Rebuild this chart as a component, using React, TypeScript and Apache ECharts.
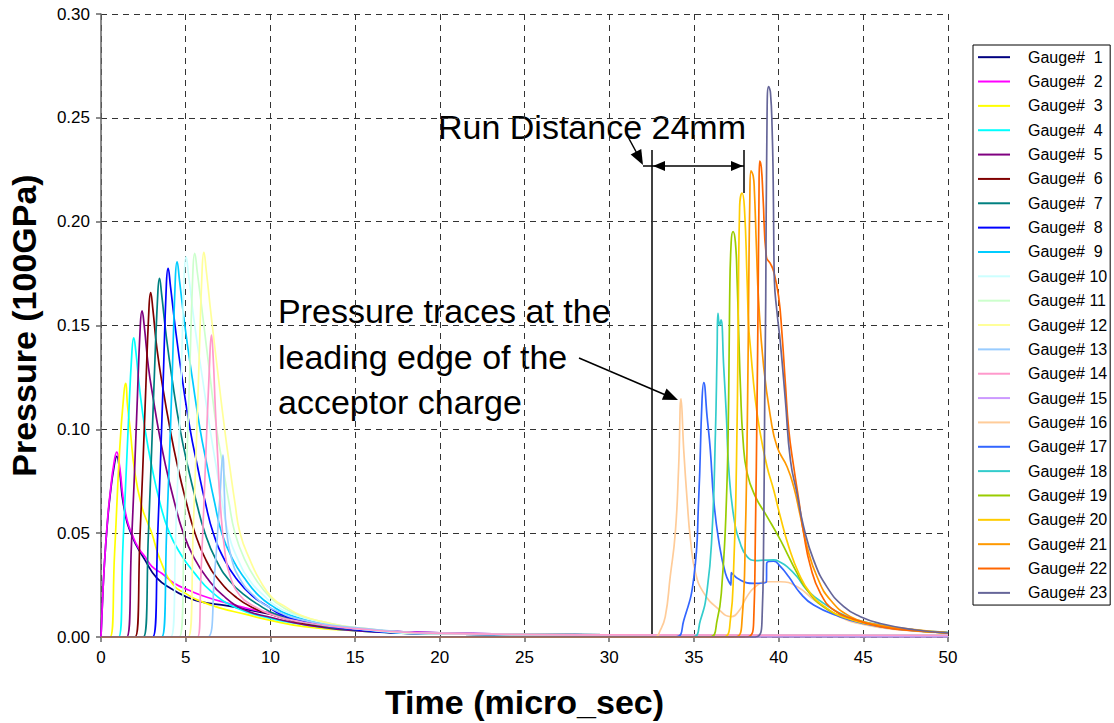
import React, { useEffect, useRef } from "react";
import * as echarts from "echarts";

type Pt = [number, number];

const GAUGE_NAMES = [
  "Gauge#  1", "Gauge#  2", "Gauge#  3", "Gauge#  4", "Gauge#  5", "Gauge#  6",
  "Gauge#  7", "Gauge#  8", "Gauge#  9", "Gauge# 10", "Gauge# 11", "Gauge# 12",
  "Gauge# 13", "Gauge# 14", "Gauge# 15", "Gauge# 16", "Gauge# 17", "Gauge# 18",
  "Gauge# 19", "Gauge# 20", "Gauge# 21", "Gauge# 22", "Gauge# 23",
];

const GAUGE_COLORS = [
  "#000080", "#FF00FF", "#FFFF00", "#00FFFF", "#800080", "#800000",
  "#008080", "#0000FF", "#00CCFF", "#CCFFFF", "#CCFFCC", "#FFFF99",
  "#99CCFF", "#FF99CC", "#CC99FF", "#FFCC99", "#3366FF", "#33CCCC",
  "#99CC00", "#FFCC00", "#FF9900", "#FF6600", "#666699",
];

const X_TICKS = [0, 5, 10, 15, 20, 25, 30, 35, 40, 45, 50];
const Y_TICKS = [0, 0.05, 0.1, 0.15, 0.2, 0.25, 0.3];

// time (micro_sec), pressure (100GPa)
const gauge01: Pt[] = [[0,0],[0.05,0.01],[0.2,0.035],[0.4,0.057],[0.55,0.069],[0.75,0.081],[0.93,0.087],[1.1,0.080],[1.32,0.064],[1.81,0.049],[2.6,0.037],[3.29,0.0285],[4.2,0.023],[5.0,0.0195],[5.85,0.017],[7.5,0.0150],[10,0.011],[12,0.008],[15,0.004],[20,0.002],[30,0.001],[50,0.0008]];
const gauge02: Pt[] = [[0,0],[0.05,0.01],[0.2,0.035],[0.4,0.058],[0.55,0.07],[0.75,0.083],[0.93,0.089],[1.1,0.082],[1.32,0.066],[1.55,0.056],[1.81,0.050],[2.2,0.043],[2.6,0.0387],[3.0,0.034],[3.58,0.0307],[4.3,0.026],[5.16,0.0226],[6.3,0.019],[7.52,0.0162],[8.8,0.0135],[10.08,0.0114],[12,0.008],[15,0.004],[20,0.002],[30,0.001],[50,0.0008]];
const gauge03: Pt[] = [[0,0],[0.53,0],[0.8,0.04],[1.1,0.09],[1.36,0.118],[1.46,0.1222],[1.56,0.112],[1.71,0.101],[2.0,0.079],[2.4,0.063],[2.8,0.054],[3.0,0.05],[3.5,0.037],[4.27,0.025],[5.0,0.021],[5.65,0.018],[7,0.014],[8.5,0.011],[10,0.008],[12,0.005],[15,0.003],[20,0.0015],[30,0.001],[50,0.0008]];
const gauge04: Pt[] = [[0,0],[1.04,0],[1.3,0.045],[1.6,0.1],[1.83,0.138],[1.93,0.1441],[2.05,0.138],[2.3,0.118],[2.6,0.10],[3.0,0.082],[3.5,0.064],[4.0,0.051],[4.7,0.04],[5.5,0.031],[6.5,0.022],[8,0.014],[10,0.009],[12,0.006],[15,0.003],[20,0.0015],[30,0.001],[50,0.0008]];
const gauge05: Pt[] = [[0,0],[1.51,0],[1.8,0.045],[2.1,0.105],[2.32,0.15],[2.42,0.157],[2.55,0.150],[2.8,0.13],[3.1,0.114],[3.39,0.10],[3.8,0.083],[4.3,0.066],[4.86,0.05],[5.5,0.038],[6.3,0.028],[7.2,0.02],[8.5,0.013],[10,0.0095],[12,0.006],[15,0.003],[20,0.0015],[30,0.001],[50,0.0008]];
const gauge06: Pt[] = [[0,0],[2.01,0],[2.3,0.048],[2.6,0.11],[2.83,0.158],[2.93,0.1658],[3.06,0.158],[3.3,0.139],[3.65,0.12],[4.08,0.10],[4.5,0.083],[5.0,0.066],[5.55,0.05],[6.2,0.037],[7.0,0.027],[8.0,0.019],[9.0,0.014],[10,0.011],[12,0.0065],[15,0.0035],[20,0.0015],[30,0.001],[50,0.0008]];
const gauge07: Pt[] = [[0,0],[2.5,0],[2.8,0.05],[3.1,0.115],[3.35,0.165],[3.45,0.1727],[3.58,0.165],[3.85,0.145],[4.2,0.124],[4.67,0.10],[5.1,0.083],[5.6,0.066],[6.14,0.05],[6.8,0.037],[7.6,0.027],[8.5,0.02],[9.4,0.015],[10.3,0.011],[12,0.007],[15,0.0035],[20,0.0015],[30,0.001],[50,0.0008]];
const gauge08: Pt[] = [[0,0],[3.05,0],[3.35,0.05],[3.65,0.118],[3.86,0.17],[3.96,0.1775],[4.1,0.169],[4.4,0.148],[4.8,0.124],[5.26,0.10],[5.7,0.082],[6.15,0.065],[6.63,0.05],[7.3,0.037],[8.0,0.028],[8.9,0.02],[9.8,0.015],[10.6,0.011],[12,0.0075],[15,0.0035],[20,0.0015],[30,0.001],[50,0.0008]];
const gauge09: Pt[] = [[0,0],[3.58,0],[3.88,0.052],[4.18,0.12],[4.39,0.173],[4.49,0.1807],[4.63,0.172],[4.95,0.15],[5.4,0.124],[5.85,0.10],[6.25,0.083],[6.7,0.065],[7.13,0.05],[7.8,0.037],[8.5,0.028],[9.3,0.02],[10.1,0.015],[11,0.011],[12.5,0.0075],[15,0.004],[20,0.0015],[30,0.001],[50,0.0008]];
const gauge10: Pt[] = [[0,0],[4.12,0],[4.42,0.052],[4.72,0.122],[4.92,0.175],[5.02,0.1831],[5.16,0.175],[5.5,0.152],[6.0,0.124],[6.44,0.10],[6.8,0.082],[7.15,0.065],[7.52,0.05],[8.1,0.037],[8.8,0.027],[9.6,0.02],[10.4,0.0145],[11.3,0.011],[12.8,0.0075],[15,0.004],[20,0.0015],[30,0.001],[50,0.0008]];
const gauge11: Pt[] = [[0,0],[4.62,0],[4.92,0.053],[5.22,0.123],[5.43,0.177],[5.53,0.1848],[5.68,0.176],[6.0,0.155],[6.4,0.128],[6.83,0.10],[7.2,0.082],[7.55,0.065],[7.91,0.05],[8.5,0.037],[9.2,0.027],[10,0.019],[10.8,0.014],[11.7,0.0105],[13,0.0075],[15,0.0045],[20,0.0017],[30,0.001],[50,0.0008]];
const gauge12: Pt[] = [[0,0],[5.15,0],[5.45,0.053],[5.75,0.123],[5.97,0.177],[6.07,0.1852],[6.22,0.176],[6.5,0.155],[6.9,0.127],[7.3,0.10],[7.6,0.082],[7.9,0.065],[8.21,0.05],[8.8,0.037],[9.4,0.027],[10.1,0.019],[10.9,0.0145],[11.8,0.0105],[13,0.0075],[15,0.0045],[20,0.0017],[30,0.001],[50,0.0008]];
const gauge13: Pt[] = [[0,0],[6.3,0],[6.7,0.03],[7.0,0.065],[7.2,0.0876],[7.28,0.07],[7.4,0.052],[7.7,0.038],[8.2,0.028],[9,0.02],[10,0.014],[12,0.008],[15,0.0045],[20,0.0017],[30,0.001],[50,0.0008]];
const gauge14: Pt[] = [[0,0],[5.7,0],[5.9,0.03],[6.15,0.08],[6.4,0.13],[6.52,0.1454],[6.62,0.135],[6.75,0.11],[6.9,0.085],[7.05,0.063],[7.3,0.042],[7.6,0.03],[8.2,0.02],[9,0.015],[10,0.011],[12,0.007],[15,0.004],[20,0.0017],[30,0.001],[50,0.0008]];
const gauge15: Pt[] = [[0,0],[50,0]];
const gauge16: Pt[] = [[0,0],[32.7,0],[33.0,0.003],[33.31,0.0098],[33.6,0.029],[33.9,0.05],[34.1,0.082],[34.24,0.1147],[34.4,0.09],[34.6,0.066],[34.8,0.0467],[35.1,0.0307],[35.6,0.021],[36.4,0.0138],[37.2,0.0098],[37.7,0.013],[38.1,0.019],[38.6,0.024],[39.3,0.0266],[40.1,0.0266],[41.1,0.0242],[42.1,0.0178],[43.6,0.0098],[45,0.006],[47,0.0035],[50,0.002]];
const gauge17: Pt[] = [[0,0],[33.9,0],[34.4,0.008],[35.0,0.029],[35.28,0.066],[35.48,0.114],[35.58,0.1225],[35.78,0.106],[35.97,0.09],[36.17,0.066],[36.46,0.0467],[36.86,0.0307],[37.19,0.025],[37.2,0.031],[37.74,0.0274],[38.53,0.0258],[39.28,0.0266],[39.3,0.0356],[39.7,0.0365],[40.1,0.034],[40.6,0.029],[41.29,0.021],[42.07,0.0154],[43.6,0.0098],[45,0.0065],[47,0.0038],[50,0.002]];
const gauge18: Pt[] = [[0,0],[34.9,0],[35.38,0.008],[35.78,0.0226],[36.07,0.05],[36.27,0.098],[36.37,0.138],[36.42,0.1559],[36.52,0.15],[36.6,0.1527],[36.76,0.13],[36.92,0.106],[37.05,0.082],[37.35,0.058],[37.74,0.045],[38.14,0.0387],[38.63,0.0368],[39.2,0.037],[39.71,0.0371],[40.1,0.036],[40.5,0.0339],[41.09,0.029],[41.68,0.0226],[42.66,0.0162],[44.05,0.0098],[45.5,0.0065],[47.5,0.0038],[50,0.0022]];
const gauge19: Pt[] = [[0,0],[35.9,0],[36.37,0.008],[36.66,0.0258],[36.92,0.066],[37.05,0.114],[37.11,0.162],[37.2,0.19],[37.31,0.1952],[37.45,0.19],[37.55,0.172],[37.64,0.148],[37.75,0.12],[37.9,0.095],[38.14,0.079],[38.63,0.0676],[39.32,0.058],[40.0,0.0483],[40.5,0.0403],[40.99,0.0323],[41.68,0.0226],[42.66,0.0146],[44.05,0.009],[45.5,0.006],[47.5,0.0035],[50,0.002]];
const gauge20: Pt[] = [[0,0],[36.7,0],[37.15,0.008],[37.35,0.034],[37.51,0.082],[37.61,0.146],[37.7,0.207],[37.84,0.2137],[37.98,0.207],[38.14,0.172],[38.23,0.15],[38.33,0.14],[38.63,0.114],[38.92,0.098],[39.32,0.082],[39.71,0.0708],[40.1,0.058],[40.6,0.0435],[41.19,0.0307],[41.88,0.021],[42.86,0.0138],[44.05,0.009],[45.5,0.006],[47.5,0.0035],[50,0.002]];
const gauge21: Pt[] = [[0,0],[37.4,0],[37.84,0.008],[38.04,0.05],[38.17,0.114],[38.23,0.162],[38.3,0.21],[38.37,0.2245],[38.5,0.222],[38.57,0.215],[38.69,0.188],[38.82,0.162],[39.12,0.13],[39.52,0.106],[39.91,0.0916],[40.5,0.082],[40.89,0.0724],[41.29,0.058],[41.68,0.0435],[42.27,0.029],[43.06,0.0178],[44.24,0.0098],[45.5,0.0065],[47.5,0.004],[50,0.002]];
const gauge22: Pt[] = [[0,0],[38.1,0],[38.53,0.008],[38.63,0.05],[38.73,0.114],[38.79,0.162],[38.84,0.21],[38.88,0.2292],[38.98,0.226],[39.08,0.212],[39.28,0.183],[39.5,0.18],[39.71,0.176],[40.0,0.164],[40.2,0.146],[40.4,0.122],[40.6,0.0997],[40.89,0.082],[41.19,0.066],[41.48,0.05],[41.88,0.034],[42.47,0.021],[43.26,0.013],[44.44,0.0085],[46,0.005],[48,0.003],[50,0.002]];
const gauge23: Pt[] = [[0,0],[38.6,0],[39.02,0.008],[39.12,0.05],[39.18,0.114],[39.24,0.162],[39.32,0.252],[39.41,0.265],[39.52,0.262],[39.62,0.244],[39.68,0.22],[39.71,0.196],[39.75,0.172],[39.91,0.156],[40.1,0.142],[40.4,0.114],[40.7,0.085],[41.09,0.069],[41.48,0.053],[42.07,0.037],[42.86,0.024],[43.85,0.0146],[44.83,0.0098],[46,0.0065],[48,0.0035],[50,0.002]];

const GAUGE_DATA: Pt[][] = [
  gauge01, gauge02, gauge03, gauge04, gauge05, gauge06, gauge07, gauge08,
  gauge09, gauge10, gauge11, gauge12, gauge13, gauge14, gauge15, gauge16,
  gauge17, gauge18, gauge19, gauge20, gauge21, gauge22, gauge23,
];

const NOTE_LEADING = ["Pressure traces at the", "leading edge of the", "acceptor charge"];
const NOTE_RUN = "Run Distance 24mm";

const FONT = "'Liberation Sans', Arial, Helvetica, sans-serif";

function arrowHead(tipX: number, tipY: number, fromX: number, fromY: number, len: number, half: number) {
  const dx = tipX - fromX;
  const dy = tipY - fromY;
  const d = Math.sqrt(dx * dx + dy * dy) || 1;
  const ux = dx / d;
  const uy = dy / d;
  const bx = tipX - ux * len;
  const by = tipY - uy * len;
  return {
    type: "polygon",
    shape: { points: [[tipX, tipY], [bx - uy * half, by + ux * half], [bx + uy * half, by - ux * half]] },
    style: { fill: "#000" },
    silent: true,
  };
}

function line(x1: number, y1: number, x2: number, y2: number, w = 1.5) {
  return { type: "line", shape: { x1, y1, x2, y2 }, style: { stroke: "#000", lineWidth: w }, silent: true };
}

export default function App() {
  const ref = useRef<HTMLDivElement>(null);

  useEffect(() => {
    if (!ref.current) return;
    const chart = echarts.init(ref.current, undefined, { renderer: "svg" });

    const series = GAUGE_NAMES.map((name, i) => ({
      name,
      type: "line",
      data: GAUGE_DATA[i],
      showSymbol: false,
      symbol: "none",
      smooth: 0.5,
      lineStyle: { width: 1.7, color: GAUGE_COLORS[i] },
      itemStyle: { color: GAUGE_COLORS[i] },
      emphasis: { disabled: true },
      z: 2,
    }));

    const note = (text: string, x: number, y: number) => ({
      type: "text",
      silent: true,
      style: { text, x, y, fill: "#000", fontSize: 34, fontFamily: FONT, align: "left", verticalAlign: "middle" },
    });

    const graphic: any[] = [
      note(NOTE_RUN, 438, 127),
      note(NOTE_LEADING[0], 278, 311),
      note(NOTE_LEADING[1], 278, 357),
      note(NOTE_LEADING[2], 278, 402),
      // run distance markers
      line(652, 150, 652, 637),
      line(744, 150, 744, 193),
      line(643, 166, 744, 166),
      arrowHead(653, 166, 670, 166, 12, 5),
      arrowHead(743, 166, 720, 166, 12, 5),
      // callout from the run distance label
      line(627, 135, 640, 159),
      arrowHead(643, 165, 627, 135, 15, 6),
      // callout from the leading edge label
      line(579, 358, 668, 396),
      arrowHead(678, 400, 579, 358, 15, 6),
    ];

    chart.setOption({
      animation: false,
      grid: { left: 101, right: 166, top: 14, bottom: 86, containLabel: false, outerBoundsMode: "none" },
      legend: {
        orient: "vertical",
        left: 973,
        top: 45,
        padding: [0, 3, 0, 5],
        itemGap: 0,
        itemWidth: 32,
        itemHeight: 2,
        icon: "rect",
        borderColor: "#000",
        borderWidth: 1,
        backgroundColor: "#fff",
        selectedMode: false,
        textStyle: { fontSize: 16, fontFamily: FONT, color: "#000", lineHeight: 24.35, padding: [0, 0, 0, 13] },
        data: GAUGE_NAMES,
      },
      xAxis: {
        type: "value",
        min: X_TICKS[0],
        max: X_TICKS[X_TICKS.length - 1],
        interval: X_TICKS[1] - X_TICKS[0],
        name: "Time (micro_sec)",
        nameLocation: "middle",
        nameGap: 48,
        nameTextStyle: { fontSize: 34, fontWeight: "bold", fontFamily: FONT, color: "#000" },
        axisLine: { show: true, onZero: false, lineStyle: { color: "#666", width: 1.5 } },
        axisTick: { show: true, length: 5, lineStyle: { color: "#666", width: 1.5 } },
        axisLabel: { fontSize: 17, fontFamily: FONT, color: "#000", margin: 12 },
        splitLine: { show: true, lineStyle: { color: "#333", type: [6, 5], width: 1 } },
      },
      yAxis: {
        type: "value",
        min: Y_TICKS[0],
        max: Y_TICKS[Y_TICKS.length - 1],
        interval: Y_TICKS[1] - Y_TICKS[0],
        name: "Pressure (100GPa)",
        nameLocation: "middle",
        nameGap: 60,
        nameRotate: 90,
        nameTextStyle: { fontSize: 34, fontWeight: "bold", fontFamily: FONT, color: "#000" },
        axisLine: { show: true, lineStyle: { color: "#666", width: 1.5 } },
        axisTick: { show: true, length: 5, lineStyle: { color: "#666", width: 1.5 } },
        axisLabel: { fontSize: 17, fontFamily: FONT, color: "#000", margin: 11, formatter: (v: number) => v.toFixed(2) },
        splitLine: { show: true, lineStyle: { color: "#333", type: [6, 5], width: 1 } },
      },
      series,
      graphic,
    });

    return () => chart.dispose();
  }, []);

  return (
    <div
      ref={ref}
      style={{ position: "absolute", left: 0, top: 0, width: 1114, height: 723, background: "#fff" }}
    />
  );
}
